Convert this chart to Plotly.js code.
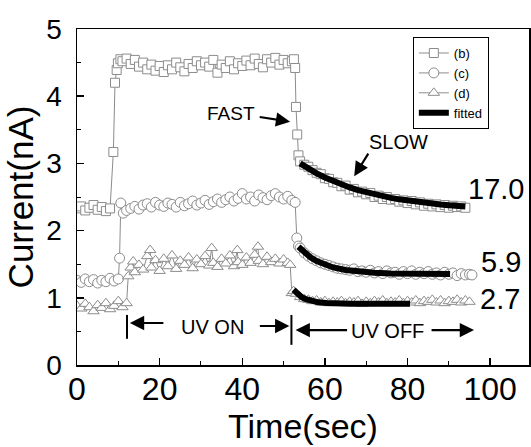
<!DOCTYPE html>
<html>
<head>
<meta charset="utf-8">
<script src="https://cdn.plot.ly/plotly-3.0.1.min.js"></script>
<style>html,body{margin:0;padding:0;background:#fff;}#chart{width:531px;height:447px;}</style>
</head>
<body>
<div id="chart"></div>
<script>
// ---- data ----
const timeB = [0,1,2,3,4,5,6,7,8,8.8,9.2,9.6,9.9,10.5,11,12,13,14,15,16,17,18,19,20,21,22,23,24,25,26,27,28,29,30,31,32,33,34,35,36,37,38,39,40,41,42,43,44,45,46,47,48,49,50,51,52,52.5,52.8,53.0,53.3,53.6,54,55,56,57,58,59,60,61,62,63,64,65,66,67,68,69,70,71,72,73,74,75,76,77,78,79,80,81,82,83,84,85,86,87,88,89,90,91,92,93,94];
const currentB = [2.33,2.36,2.30,2.34,2.38,2.31,2.35,2.29,2.33,3.17,4.20,4.39,4.49,4.55,4.52,4.56,4.48,4.54,4.44,4.50,4.40,4.47,4.38,4.45,4.36,4.46,4.40,4.50,4.43,4.37,4.48,4.42,4.52,4.46,4.50,4.44,4.54,4.35,4.47,4.42,4.52,4.40,4.49,4.45,4.53,4.46,4.56,4.48,4.43,4.55,4.50,4.57,4.47,4.54,4.49,4.52,4.55,4.42,3.84,3.43,3.12,3.03,2.98,2.95,2.90,2.86,2.84,2.78,2.77,2.72,2.71,2.66,2.67,2.61,2.62,2.57,2.58,2.54,2.56,2.50,2.52,2.47,2.50,2.46,2.47,2.43,2.45,2.41,2.44,2.39,2.42,2.37,2.40,2.36,2.39,2.35,2.38,2.34,2.37,2.35,2.36,2.34];

const timeC = [0,1,2,3,4,5,6,7,8,9,10.0,10.3,10.6,11.2,12,13,14,15,16,17,18,19,20,21,22,23,24,25,26,27,28,29,30,31,32,33,34,35,36,37,38,39,40,41,42,43,44,45,46,47,48,49,50,51,52,52.8,53.2,53.6,54,55,56,57,58,59,60,61,62,63,64,65,66,67,68,69,70,71,72,73,74,75,76,77,78,79,80,81,82,83,84,85,86,87,88,89,90,91,92,93,94,95,95.6];
const currentC = [1.26,1.23,1.28,1.24,1.27,1.22,1.26,1.24,1.29,1.25,1.28,1.59,2.41,2.26,2.30,2.33,2.36,2.32,2.38,2.40,2.35,2.42,2.38,2.36,2.41,2.39,2.35,2.42,2.37,2.40,2.44,2.38,2.41,2.45,2.39,2.43,2.47,2.42,2.46,2.50,2.44,2.48,2.55,2.47,2.50,2.44,2.53,2.49,2.46,2.52,2.55,2.50,2.47,2.51,2.45,2.42,1.89,1.77,1.74,1.67,1.62,1.58,1.55,1.52,1.50,1.48,1.46,1.44,1.43,1.42,1.41,1.43,1.39,1.40,1.38,1.41,1.37,1.39,1.36,1.40,1.37,1.38,1.35,1.39,1.36,1.40,1.35,1.38,1.36,1.39,1.35,1.37,1.34,1.38,1.35,1.37,1.33,1.36,1.34,1.35,1.34];

const timeD = [0,1,2,3,4,5,6,7,8,9,10,11,12.0,12.4,13.0,13.6,14,15,16,17,17.7,18,19,20,21,22,23,24,25,26,27,28,29,30,31,32,32.6,33,34,35,36,37,38,38.8,39,40,41,42,43,43.8,44,45,46,47,48,49,50,51,51.6,52.0,52.4,53,54,55,56,57,58,59,60,61,62,63,64,65,66,67,68,69,70,71,72,73,74,75,76,77,78,79,80,81,82,83,84,85,86,87,88,89,90,91,92,93,94,95];
const currentD = [0.88,0.84,0.91,0.86,0.80,0.89,0.85,0.92,0.83,0.88,0.95,0.86,0.92,1.32,1.45,1.54,1.38,1.49,1.42,1.62,1.71,1.45,1.56,1.40,1.58,1.47,1.63,1.43,1.55,1.49,1.60,1.44,1.57,1.50,1.62,1.48,1.74,1.52,1.46,1.58,1.51,1.63,1.47,1.71,1.53,1.49,1.60,1.52,1.64,1.76,1.55,1.50,1.61,1.53,1.58,1.51,1.57,1.52,1.49,1.07,1.10,1.06,1.01,0.98,0.97,0.95,0.96,0.93,0.95,0.92,0.94,0.93,0.95,0.92,0.94,0.93,0.95,0.91,0.94,0.92,0.95,0.93,0.96,0.92,0.94,0.93,0.96,0.92,0.95,0.93,0.96,0.92,0.95,0.94,0.97,0.93,0.96,0.92,0.95,0.94,0.97,0.93,0.96,0.94];

const fitTimeB = [54,56,58,60,62,64,66,68,70,72,74,76,78,80,82,84,86,88,90,92,94];
const fitB = [3.000,2.921,2.852,2.790,2.735,2.685,2.642,2.603,2.569,2.538,2.511,2.487,2.465,2.446,2.429,2.414,2.400,2.389,2.378,2.369,2.360];
const fitTimeC = [53.6,54.5,55.5,56.5,58,60,62,65,68,72,76,80,85,90.3];
const fitC = [1.760,1.703,1.648,1.602,1.546,1.491,1.452,1.413,1.389,1.372,1.363,1.359,1.356,1.355];
const fitTimeD = [52.4,52.9,53.4,53.9,54.4,55.4,56.4,57.4,58.4,60.4,62.4,66.4,72.4,80.6];
const fitD = [1.120,1.085,1.055,1.031,1.010,0.979,0.958,0.943,0.933,0.921,0.915,0.911,0.910,0.910];

const seriesNames = ['(b)','(c)','(d)','fitted'];
const tauLabels = ['17.0','5.9','2.7'];
const xTicks = [0,20,40,60,80,100];
const yTicks = [0,1,2,3,4,5];

// ---- styles ----
const FONT = 'Liberation Sans, Arial, sans-serif';
const gray = '#8c8c8c';
function dataTrace(x, y, name, symbol, size) {
  return {x: x, y: y, name: name, type: 'scatter', mode: 'lines+markers',
    line: {color: gray, width: 1},
    marker: {symbol: symbol, size: size, color: '#ffffff', line: {color: gray, width: 1}}};
}
function fitTrace(x, y, show) {
  return {x: x, y: y, name: seriesNames[3], type: 'scatter', mode: 'lines',
    legendgroup: 'fit', showlegend: show, line: {color: '#000000', width: 6}};
}
const traces = [
  dataTrace(timeB, currentB, seriesNames[0], 'square', 9),
  dataTrace(timeC, currentC, seriesNames[1], 'circle', 10),
  dataTrace(timeD, currentD, seriesNames[2], 'triangle-up', 10),
  fitTrace(fitTimeB, fitB, true),
  fitTrace(fitTimeC, fitC, false),
  fitTrace(fitTimeD, fitD, false)
];

function arrow(x, y, ax, ay) {
  return {x: x, y: y, xref: 'x', yref: 'y', text: '', showarrow: true,
    ax: ax, ay: ay, arrowhead: 2, arrowsize: 1.3, arrowwidth: 2.2, arrowcolor: '#000'};
}
function label(x, y, text, size) {
  return {x: x, y: y, xref: 'x', yref: 'y', text: text, showarrow: false,
    font: {family: FONT, size: size, color: '#000'}, xanchor: 'center', yanchor: 'middle'};
}

const layout = {
  width: 531, height: 447,
  margin: {l: 77, r: 2, t: 29, b: 82},
  paper_bgcolor: '#fff', plot_bgcolor: '#fff',
  showlegend: true,
  legend: {x: 0.743, y: 0.976, xanchor: 'left', yanchor: 'top',
    bgcolor: '#fff', bordercolor: '#000', borderwidth: 1,
    font: {family: FONT, size: 13, color: '#000'}, tracegroupgap: 0},
  xaxis: {range: [0, 109.4], tickvals: xTicks, ticktext: xTicks.map(String),
    ticks: 'inside', ticklen: 7, tickwidth: 1.5, tickcolor: '#000',
    minor: {dtick: 10, ticks: 'inside', ticklen: 4, tickcolor: '#000', tickwidth: 1},
    showline: true, linecolor: '#000', linewidth: 1.5, mirror: true, showgrid: false, zeroline: false,
    tickfont: {family: FONT, size: 32, color: '#000'}, ticklabelstandoff: -5,
    title: {text: 'Time(sec)', font: {family: FONT, size: 34, color: '#000'}, standoff: 8}},
  yaxis: {range: [0, 5], tickvals: yTicks, ticktext: yTicks.map(String),
    ticks: 'inside', ticklen: 7, tickwidth: 1.5, tickcolor: '#000',
    minor: {dtick: 0.5, ticks: 'inside', ticklen: 4, tickcolor: '#000', tickwidth: 1},
    showline: true, linecolor: '#000', linewidth: 1.5, mirror: true, showgrid: false, zeroline: false,
    tickfont: {family: FONT, size: 28, color: '#000'}, ticklabelstandoff: 8,
    title: {text: 'Current(nA)', font: {family: FONT, size: 35, color: '#000'}, standoff: 2}},
  annotations: [
    label(37.3, 3.75, 'FAST', 19),
    arrow(51.6, 3.62, -32, -5),
    label(77.7, 3.32, 'SLOW', 20),
    arrow(67.1, 2.81, 15, -24),
    label(101.5, 2.62, tauLabels[0], 29),
    label(102.7, 1.54, tauLabels[1], 29),
    label(102.4, 0.98, tauLabels[2], 29),
    label(32.7, 0.565, 'UV ON', 20),
    arrow(12.8, 0.625, 35, 0),
    arrow(51.4, 0.58, -31, 0),
    label(75.1, 0.506, 'UV OFF', 20),
    arrow(52.9, 0.52, 53, 0),
    arrow(96.1, 0.52, -44, 0)
  ],
  shapes: [
    {type: 'line', xref: 'x', yref: 'y', x0: 12.1, x1: 12.1, y0: 0.39, y1: 0.745, line: {color: '#000', width: 2}},
    {type: 'line', xref: 'x', yref: 'y', x0: 51.9, x1: 51.9, y0: 0.30, y1: 0.745, line: {color: '#000', width: 2}}
  ]
};

Plotly.newPlot('chart', traces, layout, {displayModeBar: false, staticPlot: true});
</script>
</body>
</html>
